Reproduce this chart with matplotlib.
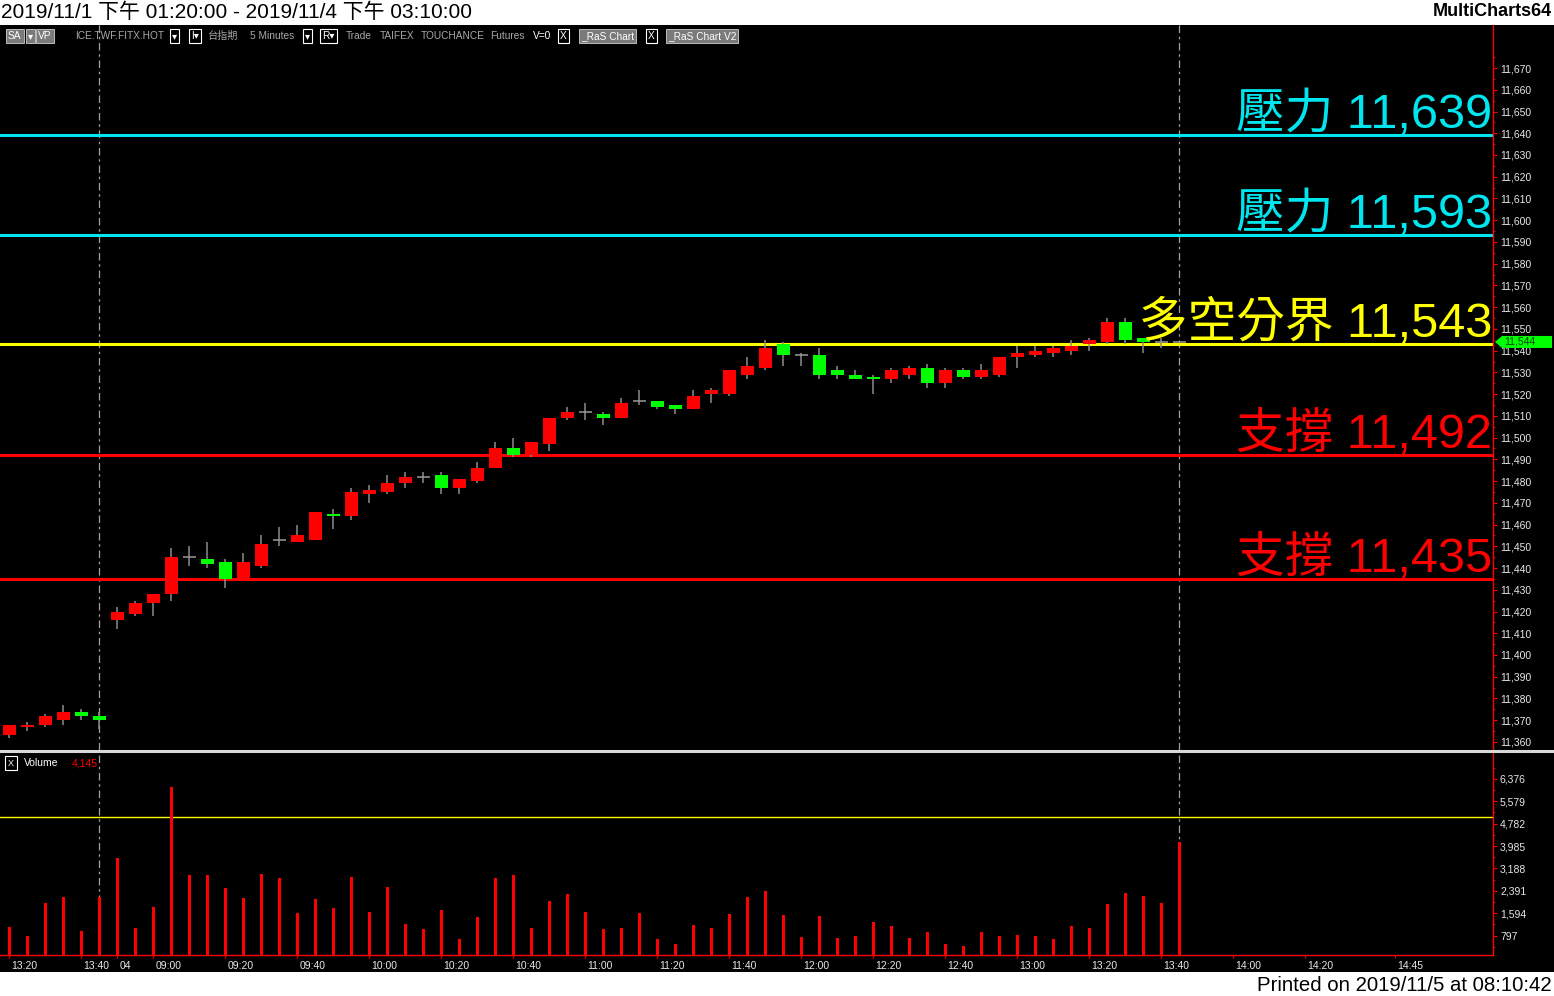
import matplotlib
matplotlib.use('Agg')
import matplotlib.pyplot as plt
import matplotlib.transforms as mtransforms
from matplotlib.patches import Rectangle, Polygon
from matplotlib.lines import Line2D
from matplotlib.ticker import FixedLocator, FuncFormatter

# 5 分鐘 K 線 (台指期) : 開 / 高 / 低 / 收
opens = [11363, 11367, 11368, 11370, 11374, 11372, 11416, 11419, 11424, 11428,
         11445, 11444, 11443, 11434, 11441, 11453, 11452, 11453, 11465, 11464,
         11474, 11475, 11479, 11482, 11483, 11477, 11480, 11486, 11495, 11492,
         11497, 11509, 11512, 11511, 11509, 11517, 11517, 11515, 11513, 11520,
         11520, 11529, 11532, 11543, 11538, 11538, 11531, 11529, 11528, 11527,
         11529, 11532, 11525, 11531, 11528, 11529, 11537, 11538, 11539, 11540,
         11543, 11544, 11553, 11546, 11544, 11544]
highs = [11368, 11369, 11373, 11377, 11375, 11374, 11422, 11425, 11428, 11449,
         11450, 11452, 11444, 11447, 11455, 11459, 11460, 11466, 11467, 11477,
         11478, 11483, 11484, 11484, 11484, 11481, 11489, 11498, 11500, 11498,
         11509, 11514, 11516, 11512, 11518, 11522, 11517, 11515, 11522, 11523,
         11531, 11537, 11545, 11544, 11539, 11541, 11533, 11531, 11529, 11532,
         11533, 11534, 11532, 11532, 11534, 11537, 11542, 11542, 11542, 11545,
         11546, 11555, 11555, 11546, 11546, 11544]
lows = [11362, 11365, 11367, 11368, 11370, 11366, 11412, 11418, 11418, 11425,
        11441, 11440, 11431, 11434, 11440, 11450, 11452, 11453, 11458, 11462,
        11470, 11474, 11477, 11479, 11474, 11474, 11479, 11486, 11491, 11491,
        11494, 11508, 11508, 11506, 11509, 11515, 11513, 11511, 11513, 11516,
        11519, 11527, 11531, 11533, 11533, 11527, 11527, 11527, 11520, 11525,
        11527, 11523, 11523, 11527, 11527, 11528, 11532, 11537, 11537, 11538,
        11540, 11543, 11543, 11539, 11541, 11544]
closes = [11368, 11368, 11372, 11374, 11372, 11370, 11420, 11424, 11428, 11445,
          11445, 11442, 11435, 11443, 11451, 11453, 11455, 11466, 11464, 11475,
          11476, 11479, 11482, 11482, 11477, 11481, 11486, 11495, 11492, 11498,
          11509, 11512, 11512, 11509, 11516, 11517, 11514, 11513, 11519, 11522,
          11531, 11533, 11541, 11538, 11538, 11529, 11529, 11527, 11527, 11531,
          11532, 11525, 11531, 11528, 11531, 11537, 11539, 11540, 11541, 11542,
          11545, 11553, 11545, 11544, 11544, 11544]
volumes = [1103, 783, 1957, 2170, 961, 2170, 3569, 1067, 1815, 6084,
           2953, 2953, 2491, 2135, 2989, 2846, 1601, 2099, 1779, 2882,
           1637, 2526, 1210, 1032, 1708, 676, 1459, 2846, 2953, 1067,
           2028, 2277, 1637, 1032, 1067, 1601, 676, 498, 1174, 1067,
           1566, 2170, 2384, 1530, 747, 1494, 712, 783, 1281, 1139,
           712, 925, 498, 427, 925, 783, 818, 783, 676, 1139,
           1067, 1921, 2313, 2206, 1957, 4145]

# 時間軸 (以 K 棒序號為位置)
time_tick_idx = [0, 4, 6, 8, 12, 16, 20, 24, 28, 32, 36, 40, 44, 48, 52, 56, 60, 64, 68, 72, 77]
time_tick_labels = ['13:20', '13:40', '04', '09:00', '09:20', '09:40', '10:00', '10:20',
                    '10:40', '11:00', '11:20', '11:40', '12:00', '12:20', '12:40',
                    '13:00', '13:20', '13:40', '14:00', '14:20', '14:45']
session_breaks = [5, 65]

# 壓力 / 支撐價位
level_values = [11639, 11593, 11543, 11492, 11435]
level_names = ['壓力', '壓力', '多空分界', '支撐', '支撐']
level_colors = ['#00e5ee', '#00e5ee', '#ffff00', '#ff0000', '#ff0000']

last_price = 11544
volume_ref = 5000
volume_step = 797

W, H = 1554, 996
fig = plt.figure(figsize=(W / 100, H / 100), dpi=100, facecolor='white')


def fx(px):
    return px / W


def fy(py):
    return 1 - py / H


FONT = ['Liberation Sans', 'Noto Sans CJK TC', 'DejaVu Sans']
GREY = '#a0a0a0'

# 黑色圖表區
fig.add_artist(Rectangle((0, fy(972)), 1, fy(25) - fy(972), transform=fig.transFigure,
                         facecolor='black', edgecolor='none', zorder=-10))

ax = fig.add_axes([0, fy(750), fx(1493), fy(25) - fy(750)])
axv = fig.add_axes([0, fy(955), fx(1493), fy(752) - fy(955)])

n = len(closes)
idx = list(range(n))
xlim = (-0.517, 82.43)

for a in (ax, axv):
    a.set_facecolor('black')
    a.set_xlim(*xlim)
    for s in ('left', 'top'):
        a.spines[s].set_visible(False)
    a.spines['right'].set_color('#ff0000')
    a.spines['right'].set_linewidth(1)
    a.yaxis.tick_right()
    a.tick_params(axis='y', which='both', colors='#ff0000', labelcolor='#e8e8e8',
                  labelsize=7.5, pad=2, direction='out')
    a.tick_params(axis='y', which='major', length=3)
    a.tick_params(axis='y', which='minor', length=1.5)
    for b in session_breaks:
        a.axvline(b, color=GREY, lw=0.9, ls=(0, (6, 3, 2, 3)), zorder=1)

ax.spines['bottom'].set_visible(False)
ax.tick_params(axis='x', bottom=False, labelbottom=False)

# ---- 價格 ----
ax.set_ylim(11356.3, 11689.8)
ax.yaxis.set_major_locator(FixedLocator(list(range(11360, 11671, 10))))
ax.yaxis.set_minor_locator(FixedLocator(list(range(11355, 11680, 10))))
ax.yaxis.set_major_formatter(FuncFormatter(lambda v, p: f'{v:,.0f}'))

blend = mtransforms.blended_transform_factory(ax.transAxes, ax.transData)
for val, name, col in zip(level_values, level_names, level_colors):
    ax.axhline(val, color=col, lw=2.2, zorder=2)
    ax.text(0.9993, val + 3.2, f'{name} {val:,}', transform=blend, ha='right', va='baseline',
            fontsize=35, color=col, family=FONT, zorder=5)

up = [i for i in idx if closes[i] > opens[i]]
down = [i for i in idx if closes[i] < opens[i]]
flat = [i for i in idx if closes[i] == opens[i]]

ax.vlines(idx, lows, highs, color='#8c8c8c', lw=1.1, zorder=3)
ax.bar(up, [closes[i] - opens[i] for i in up], bottom=[opens[i] for i in up],
       width=0.72, color='#ff0000', zorder=4)
ax.bar(down, [opens[i] - closes[i] for i in down], bottom=[closes[i] for i in down],
       width=0.72, color='#00ff00', zorder=4)
ax.hlines([closes[i] for i in flat], [i - 0.36 for i in flat], [i + 0.36 for i in flat],
          color='#9a9a9a', lw=1.1, zorder=4)

# 最新價標籤
k = 1 / 1493
hh = 6 / 2.174
ax.add_patch(Polygon([(1 + 2 * k, last_price), (1 + 9 * k, last_price + hh),
                      (1 + 59 * k, last_price + hh), (1 + 59 * k, last_price - hh),
                      (1 + 9 * k, last_price - hh)], closed=True, transform=blend,
                     facecolor='#00ff00', edgecolor='none', clip_on=False, zorder=6))
ax.text(1 + 11 * k, last_price, f'{last_price:,}', transform=blend, ha='left', va='center',
        fontsize=7.5, color='#104010', family=FONT, clip_on=False, zorder=7)

# ---- 成交量 ----
axv.set_ylim(107, 7330)
axv.bar(idx, volumes, width=0.17, color='#ff0000', zorder=3)
axv.axhline(volume_ref, color='#ffff00', lw=1, zorder=2)
axv.yaxis.set_major_locator(FixedLocator([volume_step * j for j in range(1, 9)]))
axv.yaxis.set_minor_locator(FixedLocator([volume_step * (j + 0.5) for j in range(0, 9)]))
axv.yaxis.set_major_formatter(FuncFormatter(lambda v, p: f'{v:,.0f}'))
axv.spines['bottom'].set_color('#ff0000')
axv.spines['bottom'].set_linewidth(1)
axv.set_xticks(time_tick_idx)
axv.set_xticklabels(time_tick_labels)
axv.tick_params(axis='x', colors='#ff0000', labelcolor='#e8e8e8', labelsize=7.5,
                length=2.5, pad=1.5, direction='out')
shift = mtransforms.ScaledTranslation(2 / 100, 0, fig.dpi_scale_trans)
for lbl in axv.get_xticklabels():
    lbl.set_horizontalalignment('left')
    lbl.set_transform(lbl.get_transform() + shift)
    lbl.set_family(FONT)
for lbl in ax.get_yticklabels() + axv.get_yticklabels():
    lbl.set_family(FONT)

# 兩區分隔線
fig.add_artist(Line2D([0, 1], [fy(751), fy(751)], transform=fig.transFigure,
                      color='#d8d8d8', lw=2.2))

# 成交量標題
fig.text(fx(11), fy(763), 'X', ha='center', va='center', fontsize=6.5, color='white', family=FONT,
         bbox=dict(boxstyle='square,pad=0.3', fc='black', ec='white', lw=0.8))
fig.text(fx(24), fy(763), 'Volume', ha='left', va='center', fontsize=7.5, color='white', family=FONT)
fig.text(fx(72), fy(763), f'{volumes[-1]:,}', ha='left', va='center', fontsize=7.5,
         color='#ff0000', family=FONT)

# 狀態列
status = [
    (8, 'SA', 'fill'), (28, '▾', 'fill'), (38, 'VP', 'fill'),
    (75, 'ICE.TWF.FITX.HOT', 'text'), (172, '▾', 'box'), (191, 'I▾', 'box'),
    (208, '台指期', 'text'), (250, '5 Minutes', 'text'), (305, '▾', 'box'),
    (322, 'R▾', 'box'), (346, 'Trade', 'text'), (380, 'TAIFEX', 'text'),
    (421, 'TOUCHANCE', 'text'), (490, 'Futures', 'text'), (533, 'V=0', 'white'),
    (560, 'X', 'box'), (581, '_RaS Chart', 'fill'), (648, 'X', 'box'),
    (668, '_RaS Chart V2', 'fill'),
]
for x, s, style in status:
    kw = dict(ha='left', va='center', fontsize=7.3, family=FONT)
    if style == 'fill':
        fig.text(fx(x), fy(36), s, color='white',
                 bbox=dict(boxstyle='square,pad=0.2', fc='#7a7a7a', ec='#d0d0d0', lw=0.6), **kw)
    elif style == 'box':
        fig.text(fx(x), fy(36), s, color='white',
                 bbox=dict(boxstyle='square,pad=0.2', fc='black', ec='white', lw=0.8), **kw)
    elif style == 'white':
        fig.text(fx(x), fy(36), s, color='white', **kw)
    else:
        fig.text(fx(x), fy(36), s, color='#a8a8a8', **kw)

# 上下白色標題列
fig.text(fx(1), fy(12), '2019/11/1 下午 01:20:00 - 2019/11/4 下午 03:10:00', ha='left',
         va='center', fontsize=15, color='black', family=FONT)
fig.text(fx(1552), fy(12), 'MultiCharts64', ha='right', va='center', fontsize=13,
         fontweight='bold', color='black', family=FONT)
fig.text(fx(1552), fy(985), 'Printed on 2019/11/5 at 08:10:42', ha='right', va='center',
         fontsize=14.7, color='black', family=FONT)

fig.savefig('out.png', dpi=100, facecolor='white')
